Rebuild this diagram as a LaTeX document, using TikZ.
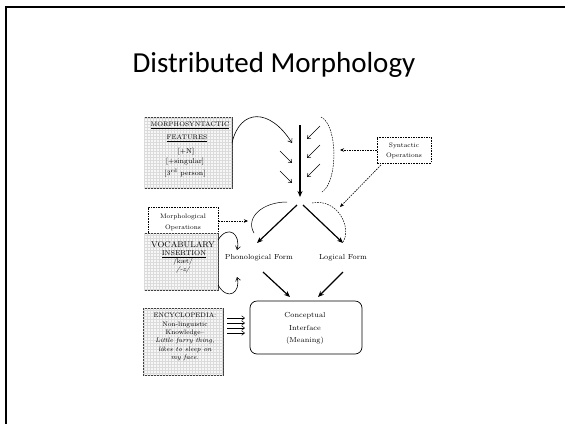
\documentclass[tikz,border=0pt]{standalone}
\usepackage{fontspec}
\newfontfamily\titlefont{Carlito}
\usetikzlibrary{arrows.meta,patterns}
\begin{document}
\begin{tikzpicture}[x=1pt,y=-1pt,
  gridbox/.style={draw=black!75, line width=0.9pt, fill=gray!6,
     postaction={pattern=grid, pattern color=gray!28}, inner sep=0pt},
  dashbox/.style={draw, dash pattern=on 1.6pt off 1pt, line width=0.6pt, inner sep=0pt},
  txt/.style={font=\fontsize{7}{9}\selectfont, inner sep=0pt, align=center},
  stxt/.style={font=\fontsize{6.5}{8.3}\selectfont, inner sep=0pt, align=center},
  thinarr/.style={-{Straight Barb[length=3pt,width=4.5pt]}, line width=0.5pt},
  dasharr/.style={-{Stealth[length=4pt,width=3.5pt]}, dash pattern=on 1.6pt off 1pt, line width=0.6pt},
  bigarr/.style={-{Stealth[length=6pt,width=5pt]}, line width=1.2pt},
  curvearr/.style={-{Straight Barb[length=3.5pt,width=5pt]}, line width=0.6pt}
]
\useasboundingbox (0,0) rectangle (565,424);
% slide border
\draw[line width=2pt] (5.7,424) -- (5.7,6.5) -- (565,6.5);
% title
\node[font=\titlefont\fontsize{29}{35}\selectfont, anchor=base, inner sep=0pt] (title) at (274,72) {Distributed Morphology};

% Morphosyntactic features box
\node[gridbox, minimum width=88pt, minimum height=71pt] (ms) at (188,152.5) {};
\node[txt, font=\fontsize{6.6}{9}\selectfont] (ms1) at (190,125) {\underline{MORPHOSYNTACTIC}};
\node[txt, font=\fontsize{6.6}{9}\selectfont] (ms2) at (187,138) {\underline{FEATURES}};
\node[txt] (ms3) at (186,152) {[+N]};
\node[txt] (ms4) at (185,162) {[+singular]};
\node[txt] (ms5) at (185,173) {[3\textsuperscript{rd} person]};

% Syntax column
\coordinate (vtop) at (300,125);
\coordinate (vbot) at (300,197);
\draw[bigarr] (vtop) -- (vbot);
\coordinate (msout) at (232,143);
\coordinate (la1) at (292,143);
\draw[curvearr] (msout) .. controls (240,108) and (270,108) .. (la1);
\coordinate (la2s) at (280,151); \coordinate (la2e) at (292,163);
\coordinate (la3s) at (280,171); \coordinate (la3e) at (292,183);
\draw[thinarr] (la2s) -- (la2e);
\draw[thinarr] (la3s) -- (la3e);
\coordinate (ra1s) at (320,126); \coordinate (ra1e) at (307,139);
\coordinate (ra2s) at (320,145); \coordinate (ra2e) at (307,158);
\coordinate (ra3s) at (320,164); \coordinate (ra3e) at (307,177);
\draw[thinarr] (ra1s) -- (ra1e);
\draw[thinarr] (ra2s) -- (ra2e);
\draw[thinarr] (ra3s) -- (ra3e);
% dashed enclosing curve
\coordinate (ea) at (321,117); \coordinate (eb) at (322,192);
\draw[dash pattern=on 1.6pt off 1pt, line width=0.5pt] (ea) .. controls (338,125) and (338,182) .. (eb);

% Syntactic operations
\node[dashbox, minimum width=54pt, minimum height=26pt] (synop) at (404,150) {};
\node[txt, font=\fontsize{6.5}{10}\selectfont] (synoptxt) at (404,151) {Syntactic\\Operations};
\coordinate (synt1) at (340,150);
\coordinate (synt2) at (340,207);
\coordinate (synops) at (381,165);
\draw[dasharr] (synop.west) -- (synt1);
\draw[dasharr] (synops) -- (synt2);

% Split
\coordinate (spl) at (297,205); \coordinate (spr) at (303,205);
\coordinate (pft) at (257,243); \coordinate (lft) at (343,243);
\draw[bigarr] (spl) -- (pft);
\draw[bigarr] (spr) -- (lft);
\coordinate (arcLa) at (287,202); \coordinate (arcLb) at (254,233);
\draw[line width=0.5pt] (arcLa) .. controls (262,202) and (245,218) .. (arcLb);
\coordinate (arcRa) at (312,203); \coordinate (arcRb) at (343,242);
\draw[dash pattern=on 1.6pt off 1pt, line width=0.5pt] (arcRa) .. controls (338,198) and (352,228) .. (arcRb);

% Morphological operations
\node[dashbox, minimum width=70pt, minimum height=28pt] (morop) at (183,221) {};
\node[txt, font=\fontsize{6.5}{11}\selectfont] (moroptxt) at (183,222) {Morphological\\Operations};
\coordinate (morT) at (248,221);
\draw[dasharr] (morop.east) -- (morT);

% Vocabulary insertion
\node[gridbox, minimum width=74pt, minimum height=57pt] (voc) at (181,261.5) {};
\node[txt, font=\fontsize{8.3}{10}\selectfont] (voc1) at (183,245) {VOCABULARY};
\node[txt] (voc2) at (184,254.5) {\underline{INSERTION}};
\node[stxt] (voc3) at (183,262) {/kæt/};
\node[stxt] (voc4) at (183,269.5) {\itshape /-z/};
\coordinate (vo1) at (218,240); \coordinate (vo2) at (218,285);
\coordinate (pfa1) at (237,250); \coordinate (pfa2) at (237,277);
\draw[curvearr] (vo1) .. controls (228,224) and (241,234) .. (pfa1);
\draw[curvearr] (vo2) .. controls (228,302) and (241,292) .. (pfa2);

% Forms
\node[txt, font=\fontsize{7.3}{9}\selectfont] (pf) at (259,258) {Phonological Form};
\node[txt, font=\fontsize{7.3}{9}\selectfont] (lf) at (343,258) {Logical Form};
\coordinate (pfs) at (263,272); \coordinate (cil) at (290,297);
\coordinate (lfs) at (343,272); \coordinate (cir) at (318,297);
\draw[bigarr] (pfs) -- (cil);
\draw[bigarr] (lfs) -- (cir);

% Conceptual interface
\node[draw, rounded corners=7pt, line width=0.7pt, minimum width=112pt, minimum height=53pt, inner sep=0pt] (ci) at (306,327.5) {};
\node[txt, font=\fontsize{7.3}{12.5}\selectfont] (citxt) at (305,328.5) {Conceptual\\Interface\\(Meaning)};

% Encyclopedia
\node[gridbox, minimum width=80pt, minimum height=67pt] (enc) at (183,341.5) {};
\node[stxt] (enctxt) at (185,337) {ENCYCLOPEDIA:\\Non-linguistic\\Knowledge--\\\itshape Little furry thing,\\\itshape likes to sleep on\\\itshape my face.};
\foreach \i/\yy in {1/318,2/323,3/328,4/333}{
  \coordinate (es\i) at (227,\yy);
  \coordinate (ee\i) at (245,\yy);
  \draw[thinarr] (es\i) -- (ee\i);
}
\end{tikzpicture}
\end{document}
